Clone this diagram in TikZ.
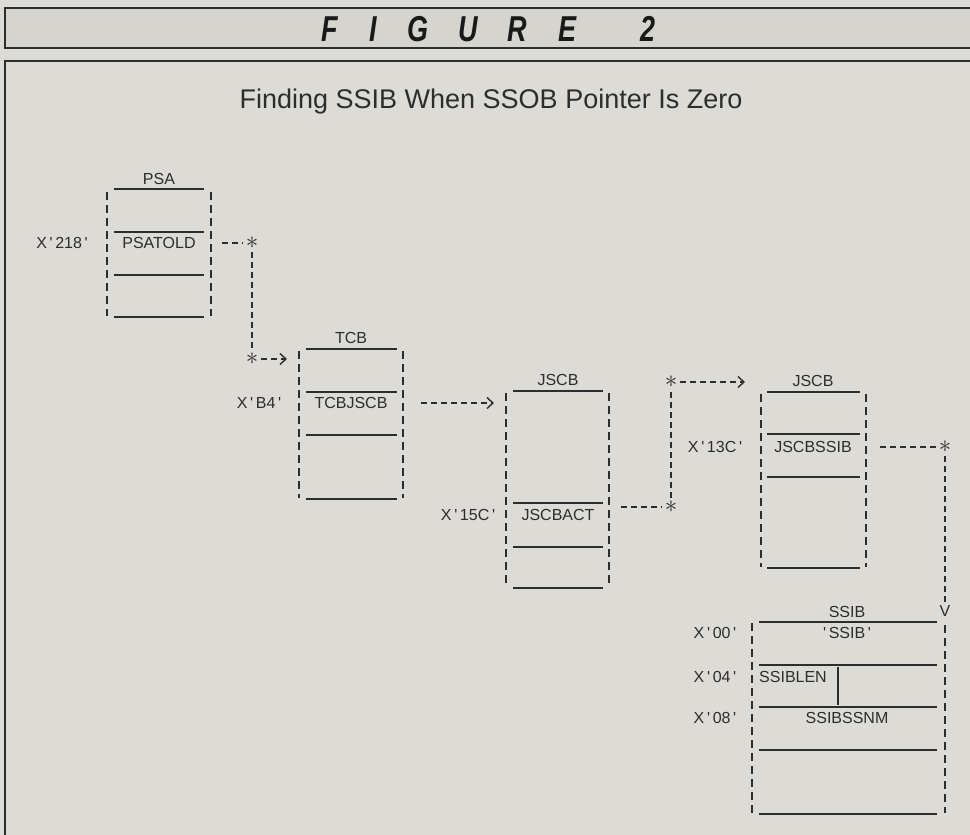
\documentclass[tikz,border=0pt]{standalone}
\usepackage{fontspec}
\setmainfont{Liberation Sans}
\usetikzlibrary{arrows.meta}
\definecolor{paper}{RGB}{221,219,214}
\definecolor{band}{RGB}{214,212,207}
\definecolor{ink}{RGB}{45,45,45}
\newcommand{\hq}{\textquotesingle}
\begin{document}
\begin{tikzpicture}[x=1pt,y=-1pt,
  frame/.style={draw=ink,line width=1.8pt},
  side/.style={ink,line width=1.5pt,dash pattern=on 8pt off 5pt},
  field/.style={ink,line width=1.5pt},
  link/.style={ink,line width=1.5pt,dash pattern=on 6pt off 4pt},
  tip/.style={-{Straight Barb[length=6pt,width=11pt,line width=1.4pt]}},
  lbl/.style={inner sep=0pt,text=ink,font=\fontsize{16}{16}\selectfont},
  star/.style={inner sep=0pt,outer sep=3pt,text=ink,font=\fontsize{26}{26}\selectfont},
  title/.style={inner sep=0pt,text=ink,font=\fontsize{27}{27}\selectfont},
  headch/.style={inner sep=0pt,text=black!90,font=\fontsize{36}{36}\selectfont\bfseries\itshape}]
\useasboundingbox (0,0) rectangle (970,835);
\clip (0,0) rectangle (970,835);
\fill[paper] (0,0) rectangle (970,835);
% header band and main frame
\draw[frame,fill=band] (5,8) rectangle (980,48);
\foreach \x/\c in {330/F,373/I,418/G,468/U,517/R,567/E,648/2}
  \node[headch] (fig\x) at (\x,29) {\scalebox{0.75}[1]{\c}};
\draw[frame] (5,61) rectangle (980,845);
\node[title] (title) at (491,102) {Finding SSIB When SSOB Pointer Is Zero};

% PSA
\draw[side] (107,192) -- (107,316);
\draw[side] (211,192) -- (211,316);
\foreach \y in {189,232,275,317} \draw[field] (114,\y) -- (204,\y);
\node[lbl] (psa) at (159,179) {PSA};
\node[lbl] (psatold) at (159,243) {PSATOLD};
\node[lbl] (off218) at (62,243) {X\,\hq\,218\,\hq};

% TCB
\draw[side] (299,351) -- (299,498);
\draw[side] (403,351) -- (403,498);
\foreach \y in {349,392,435,499} \draw[field] (306,\y) -- (397,\y);
\node[lbl] (tcb) at (351,338) {TCB};
\node[lbl] (tcbjscb) at (351,403) {TCBJSCB};
\node[lbl] (offb4) at (259,403) {X\,\hq\,B4\,\hq};

% JSCB (first)
\draw[side] (506,393) -- (506,587);
\draw[side] (609,393) -- (609,587);
\foreach \y in {391,503,547,588} \draw[field] (513,\y) -- (603,\y);
\node[lbl] (jscba) at (558,380) {JSCB};
\node[lbl] (jscbact) at (558,515) {JSCBACT};
\node[lbl] (off15c) at (468,515) {X\,\hq\,15C\,\hq};

% JSCB (second)
\draw[side] (761,394) -- (761,567);
\draw[side] (866,394) -- (866,567);
\foreach \y in {392,434,477,568} \draw[field] (767,\y) -- (860,\y);
\node[lbl] (jscbb) at (813,381) {JSCB};
\node[lbl] (jscbssib) at (813,447) {JSCBSSIB};
\node[lbl] (off13c) at (715,447) {X\,\hq\,13C\,\hq};

% SSIB
\draw[side] (752,623) -- (752,813);
\draw[side] (945,625) -- (945,813);
\foreach \y in {622,665,707,750,814} \draw[field] (759,\y) -- (937,\y);
\draw[field] (838,667) -- (838,705);
\node[lbl] (ssib) at (847,612) {SSIB};
\node[lbl] (ssibid) at (847,633) {\hq\,SSIB\,\hq};
\node[lbl] (ssiblen) at (793,677) {SSIBLEN};
\node[lbl] (ssibssnm) at (847,718) {SSIBSSNM};
\node[lbl] (off00) at (715,633) {X\,\hq\,00\,\hq};
\node[lbl] (off04) at (715,677) {X\,\hq\,04\,\hq};
\node[lbl] (off08) at (715,718) {X\,\hq\,08\,\hq};

% pointer chain
\coordinate (p1) at (222,243);
\node[star] (s1) at (252,243) {$\ast$};
\node[star] (s2) at (252,359) {$\ast$};
\coordinate (p2) at (287,359);
\draw[link] (p1) -- (s1);
\draw[link] (s1) -- (s2);
\draw[link,tip] (s2) -- (p2);

\coordinate (p3) at (421,403);
\coordinate (p4) at (494,403);
\draw[link,tip] (p3) -- (p4);

\coordinate (p5) at (621,507);
\node[star] (s3) at (671,507) {$\ast$};
\node[star] (s4) at (671,382) {$\ast$};
\coordinate (p6) at (745,382);
\draw[link] (p5) -- (s3);
\draw[link] (s3) -- (s4);
\draw[link,tip] (s4) -- (p6);

\coordinate (p7) at (880,447);
\node[star] (s5) at (945,447) {$\ast$};
\node[lbl,outer sep=2pt] (vtip) at (945,611) {V};
\draw[link] (p7) -- (s5);
\draw[link] (s5) -- (vtip);
\end{tikzpicture}
\end{document}
